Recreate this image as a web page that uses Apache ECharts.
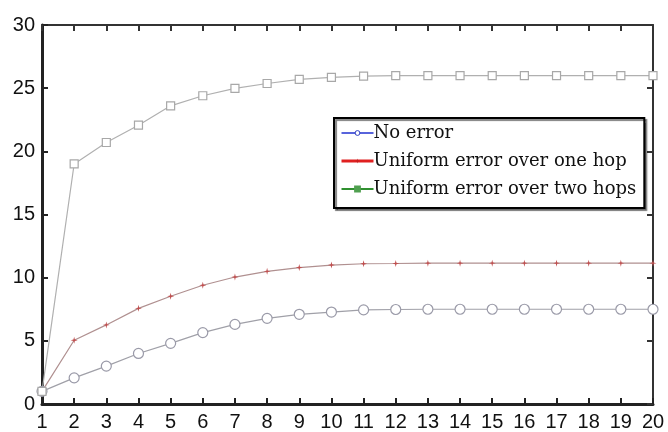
<!DOCTYPE html>
<html><head><meta charset="utf-8">
<script src="https://cdn.jsdelivr.net/npm/echarts@6/dist/echarts.min.js"></script>
<style>html,body{margin:0;padding:0;background:#fff}#c{width:668px;height:432px}</style>
</head><body><div id="c"></div>
<script>
const xValues = [1,2,3,4,5,6,7,8,9,10,11,12,13,14,15,16,17,18,19,20];
const seriesNames = ['No error','Uniform error over one hop','Uniform error over two hops'];
const noError = [1.0,2.07,3.0,4.0,4.8,5.65,6.3,6.78,7.1,7.28,7.45,7.48,7.5,7.5,7.5,7.5,7.5,7.5,7.5,7.5];
const oneHop = [1.0,5.05,6.26,7.57,8.53,9.4,10.05,10.5,10.8,11.0,11.1,11.12,11.15,11.15,11.15,11.15,11.15,11.15,11.15,11.15];
const twoHops = [1.0,19.0,20.7,22.07,23.6,24.4,24.98,25.37,25.7,25.85,25.95,26.0,26.0,26.0,26.0,26.0,26.0,26.0,26.0,26.0];
const yTicks = [0,5,10,15,20,25,30];

const pair = arr => xValues.map((x,i)=>[x,arr[i]]);
const chart = echarts.init(document.getElementById('c'));
const star = 'path://M5 0 L6 4 L10 5 L6 6 L5 10 L4 6 L0 5 L4 4 Z';
chart.setOption({
  animation:false,
  backgroundColor:'#fff',
  grid:{left:42,top:25,right:15,bottom:25},
  xAxis:[
    {type:'value',min:1,max:20,interval:1,position:'bottom',
     axisLine:{show:true,onZero:false,lineStyle:{color:'#222',width:3}},
     axisTick:{inside:true,length:6,lineStyle:{color:'#222',width:2}},
     axisLabel:{fontFamily:'Liberation Sans',fontSize:20,color:'#111',margin:8},
     splitLine:{show:false}},
    {type:'value',min:1,max:20,interval:1,position:'top',
     axisLine:{show:true,onZero:false,lineStyle:{color:'#333',width:2}},
     axisTick:{show:true,inside:true,length:6,lineStyle:{color:'#333',width:2}},
     axisLabel:{show:false},splitLine:{show:false}}
  ],
  yAxis:[
    {type:'value',min:yTicks[0],max:yTicks[yTicks.length-1],interval:5,position:'left',
     axisLine:{show:true,onZero:false,lineStyle:{color:'#222',width:3}},
     axisTick:{show:true,inside:true,length:6,lineStyle:{color:'#222',width:2}},
     axisLabel:{fontFamily:'Liberation Sans',fontSize:20,color:'#111',margin:7},
     splitLine:{show:false}},
    {type:'value',min:yTicks[0],max:yTicks[yTicks.length-1],interval:5,position:'right',
     axisLine:{show:true,onZero:false,lineStyle:{color:'#333',width:2}},
     axisTick:{show:true,inside:true,length:6,lineStyle:{color:'#333',width:2}},
     axisLabel:{show:false},splitLine:{show:false}}
  ],
  legend:{
    left:334,top:118,orient:'vertical',
    padding:[6,8,10,6],itemGap:10,itemWidth:32,itemHeight:6,
    backgroundColor:'#fff',borderColor:'#000',borderWidth:2,
    shadowColor:'rgba(0,0,0,0.5)',shadowOffsetX:2,shadowOffsetY:2,shadowBlur:1,
    textStyle:{fontFamily:'DejaVu Serif',fontSize:18,color:'#111',padding:[0,0,0,-5]},
    data:[
      {name:seriesNames[0],itemStyle:{color:'#fff',borderColor:'#3040c0',borderWidth:1},lineStyle:{color:'#2030d0',width:1.5}},
      {name:seriesNames[1],itemStyle:{color:'#c02020'},lineStyle:{color:'#e02020',width:3}},
      {name:seriesNames[2],itemStyle:{color:'#50a050',borderColor:'#50a050'},lineStyle:{color:'#309030',width:2,type:'solid'}}
    ]
  },
  series:[
    {name:seriesNames[0],type:'line',data:pair(noError),symbol:'circle',symbolSize:10,
     lineStyle:{color:'#a0a0a8',width:1.2},itemStyle:{color:'#fff',borderColor:'#9a9aa8',borderWidth:1.2},z:3},
    {name:seriesNames[1],type:'line',data:pair(oneHop),symbol:star,symbolSize:7,
     lineStyle:{color:'#b09090',width:1.2},itemStyle:{color:'#c05050'},z:3},
    {name:seriesNames[2],type:'line',data:pair(twoHops),symbol:'rect',symbolSize:8,
     lineStyle:{color:'#b0b0b0',width:1.2},itemStyle:{color:'#fff',borderColor:'#a8a8a8',borderWidth:1.2},z:3}
  ]
});
</script></body></html>
